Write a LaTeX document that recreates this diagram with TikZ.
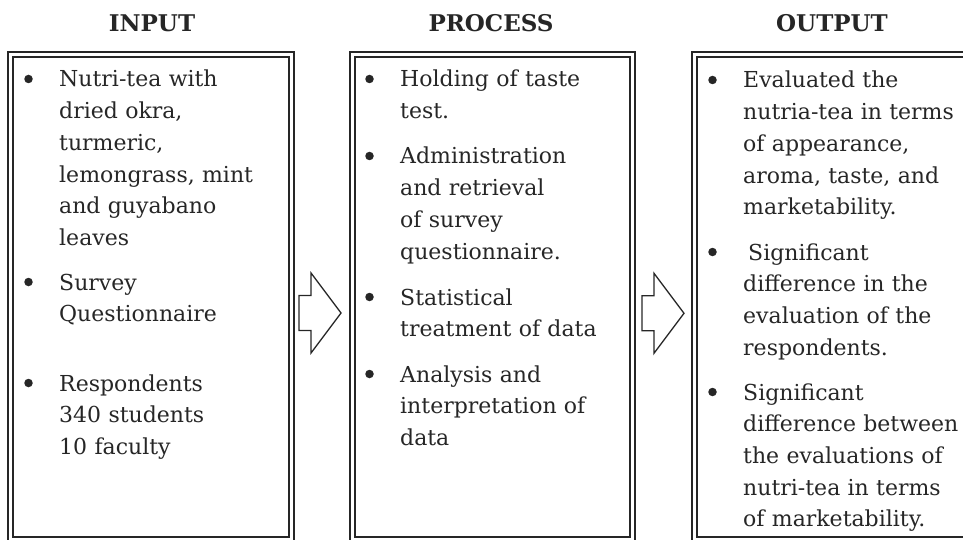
\documentclass[tikz,border=0pt]{standalone}
\usepackage{fontspec}
\setmainfont{DejaVu Serif}
\usetikzlibrary{positioning}

\begin{document}
\begin{tikzpicture}[x=1pt, y=-1pt,
    frame/.style={draw=black!85, double, line width=2.3pt, double distance=2.7pt, anchor=north west,
      minimum width=280.5pt, minimum height=485pt, inner sep=0pt},
    head/.style={font=\fontsize{23}{28}\selectfont\bfseries, text=black!85, anchor=base, inner sep=0pt},
    entry/.style={font=\fontsize{22}{31.7}\selectfont, text=black!85, align=left, text width=262pt,
      anchor=base west, inner sep=0pt},
    dot/.style={circle, fill=black!85, inner sep=0pt, minimum size=8.5pt},
    fatarrow/.pic={\draw[black!85, line width=1.3pt, line join=miter]
      (0,-17.5) -- (12,-17.5) -- (12,-40) -- (42,0) -- (12,40) -- (12,17.5) -- (0,17.5) -- cycle;}]
    \useasboundingbox (0,0) rectangle (963,540);
    \clip (0,0) rectangle (963,540);
    % frames
    \node[frame] (inbox)   at (9.5,53.5) {};
    \node[frame] (procbox) at (351,53.5) {};
    \node[frame, minimum width=290pt] (outbox) at (693.5,53.5) {};
    % headings
    \node[head] (inhead)   at (152,32) {INPUT};
    \node[head] (prochead) at (491,32) {PROCESS};
    \node[head] (outhead)  at (832,32) {OUTPUT};
    % input
    \node[entry] (in1) at (59,87)  {Nutri-tea with\\ dried okra,\\ turmeric,\\ lemongrass, mint\\ and guyabano\\ leaves};
    \node[entry] (in2) at (59,290) {Survey\\ Questionnaire};
    \node[entry] (in3) at (59,391) {Respondents\\ 340 students\\ 10 faculty};
    % process
    \node[entry] (pr1) at (400,87)  {Holding of taste\\ test.};
    \node[entry] (pr2) at (400,164) {Administration\\ and retrieval\\ of survey\\ questionnaire.};
    \node[entry] (pr3) at (400,305) {Statistical\\ treatment of data};
    \node[entry] (pr4) at (400,382) {Analysis and\\ interpretation of\\ data};
    % output
    \node[entry] (out1) at (743,88)  {Evaluated the\\ nutria-tea in terms\\ of appearance,\\ aroma, taste, and\\ marketability.};
    \node[entry] (out2) at (743,260) {\hspace{5pt}Significant\\ difference in the\\ evaluation of the\\ respondents.};
    \node[entry] (out3) at (743,400) {Significant\\ difference between\\ the evaluations of\\ nutri-tea in terms\\ of marketability.};
    % bullets
    \foreach \e in {in1,in2,in3,pr1,pr2,pr3,pr4,out1,out2,out3}
      \node[dot] (dot-\e) at ([shift={(-30.5,-8)}]\e.base west) {};
    % block arrows
    \pic at (299,313) {fatarrow};
    \pic at (642,313.3) {fatarrow};
\end{tikzpicture}
\end{document}
